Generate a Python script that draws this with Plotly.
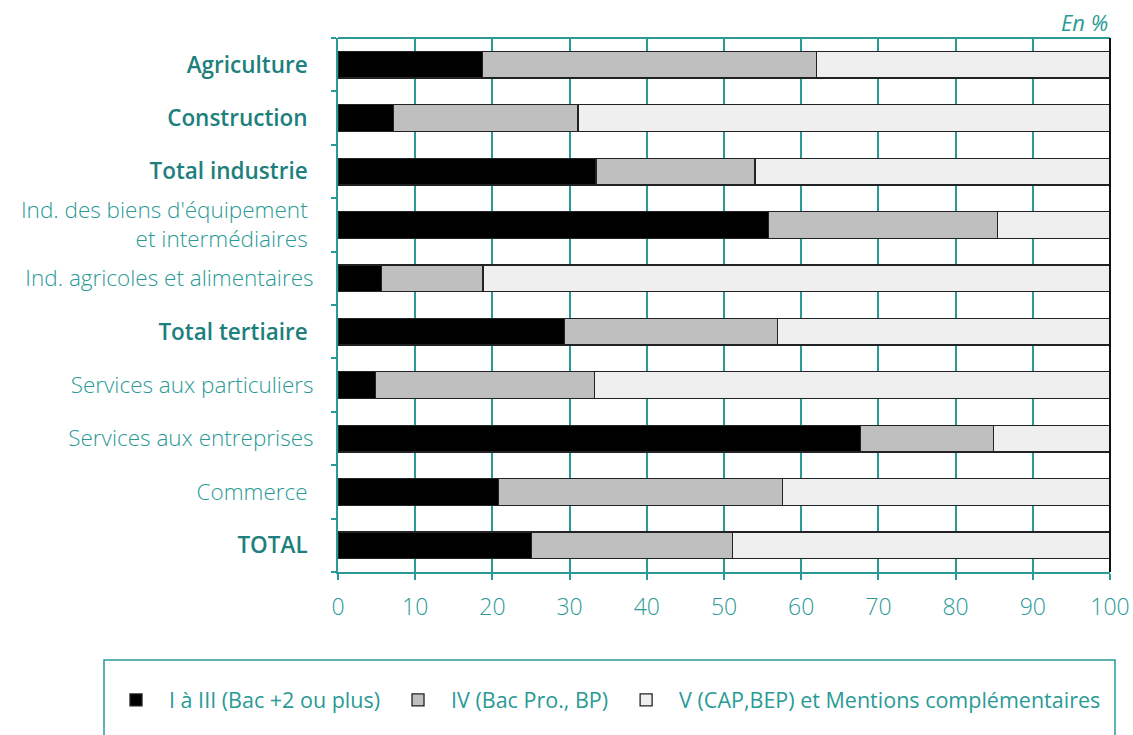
import plotly.graph_objects as go

categories = [
    "Agriculture",
    "Construction",
    "Total industrie",
    "Ind. des biens d'équipement<br>et intermédiaires",
    "Ind. agricoles et alimentaires",
    "Total tertiaire",
    "Services aux particuliers",
    "Services aux entreprises",
    "Commerce",
    "TOTAL",
]
emphasized = ["Agriculture", "Construction", "Total industrie", "Total tertiaire", "TOTAL"]
padded = ["Ind. des biens d'équipement<br>et intermédiaires", "Commerce"]

niveau_I_III = [18.7, 7.2, 33.4, 55.8, 5.6, 29.3, 4.9, 67.7, 20.8, 25.1]
niveau_IV = [43.3, 23.9, 20.6, 29.6, 13.2, 27.6, 28.3, 17.2, 36.8, 26.0]
niveau_V = [38.0, 68.9, 46.0, 14.6, 81.2, 43.1, 66.8, 15.1, 42.4, 48.9]

series_names = [
    "I à III (Bac +2 ou plus)",
    "IV (Bac Pro., BP)",
    "V (CAP,BEP) et Mentions complémentaires",
]
series_values = [niveau_I_III, niveau_IV, niveau_V]
series_colors = ["#000000", "#bfbfbf", "#efefef"]

x_ticks = list(range(0, 101, 10))

TEAL = "#2a9a96"
TEAL_DARK = "#1d807d"
FONT = "Open Sans"

W, H = 1133, 735
ML, MR, MT, MB = 338, 23, 38, 163
PW = W - ML - MR
PH = H - MT - MB


def px_x(px):
    return (px - ML) / PW


def px_y(py):
    return (H - MB - py) / PH


fig = go.Figure()
for name, vals, col in zip(series_names, series_values, series_colors):
    fig.add_trace(go.Bar(
        y=categories, x=vals, name=name, orientation="h",
        marker=dict(color=col, line=dict(color="#222222", width=1.3)),
    ))

ticktext = []
for c in categories:
    if c in emphasized:
        ticktext.append(
            f"<span style='font-size:22.5px;font-weight:600;fill:{TEAL_DARK}'>{c}&nbsp;</span>")
    elif c in padded:
        ticktext.append("&nbsp;<br>".join(c.split("<br>")) + "&nbsp;")
    else:
        ticktext.append(c)

fig.update_layout(
    width=W, height=H,
    margin=dict(l=ML, r=MR, t=MT, b=MB, autoexpand=False),
    barmode="stack",
    bargap=0.5,
    plot_bgcolor="white",
    paper_bgcolor="white",
    font=dict(family=FONT, color=TEAL, size=21),
    showlegend=True,
    legend=dict(
        orientation="h",
        x=px_x(103), y=px_y(700), xanchor="left", yanchor="middle",
        font=dict(family=FONT, size=21.5, color=TEAL),
        traceorder="normal",
        itemwidth=56,
        bgcolor="rgba(0,0,0,0)",
    ),
    xaxis=dict(
        range=[0, 100],
        tickvals=x_ticks,
        ticktext=[str(v) for v in x_ticks],
        showgrid=True, gridcolor=TEAL, gridwidth=2,
        showline=True, linecolor=TEAL, linewidth=2,
        ticks="outside", ticklen=6, tickcolor=TEAL, tickwidth=2,
        tickfont=dict(family=FONT, size=23, color=TEAL, weight=300),
        ticklabelstandoff=7,
        zeroline=False,
        automargin=False,
    ),
    yaxis=dict(
        categoryorder="array",
        categoryarray=categories,
        autorange="reversed",
        tickvals=categories,
        ticktext=ticktext,
        tickson="boundaries",
        ticks="outside", ticklen=5, tickcolor=TEAL, tickwidth=2,
        showline=True, linecolor=TEAL, linewidth=2,
        showgrid=False,
        tickfont=dict(family=FONT, size=22.5, color=TEAL, weight=300),
        ticklabelstandoff=18,
        automargin=False,
    ),
)

# frame: teal top line, black right line
fig.add_shape(type="line", xref="paper", yref="paper", x0=0, x1=1, y0=1, y1=1,
              line=dict(color=TEAL, width=2))
fig.add_shape(type="line", xref="paper", yref="paper", x0=1, x1=1, y0=0, y1=1,
              line=dict(color="#111111", width=2))
# legend box
fig.add_shape(type="rect", xref="paper", yref="paper",
              x0=px_x(104), x1=px_x(1115), y0=px_y(660), y1=px_y(745),
              line=dict(color=TEAL, width=1.5), fillcolor="rgba(0,0,0,0)")

fig.add_annotation(text="<i>En %</i>", xref="paper", yref="paper",
                   x=px_x(1110), y=px_y(22), xanchor="right", yanchor="middle",
                   showarrow=False, font=dict(family=FONT, size=22, color=TEAL))

fig.write_html("out.html",
               config={"displayModeBar": False},
               post_script="document.body.style.margin='0';document.body.style.padding='0';")
